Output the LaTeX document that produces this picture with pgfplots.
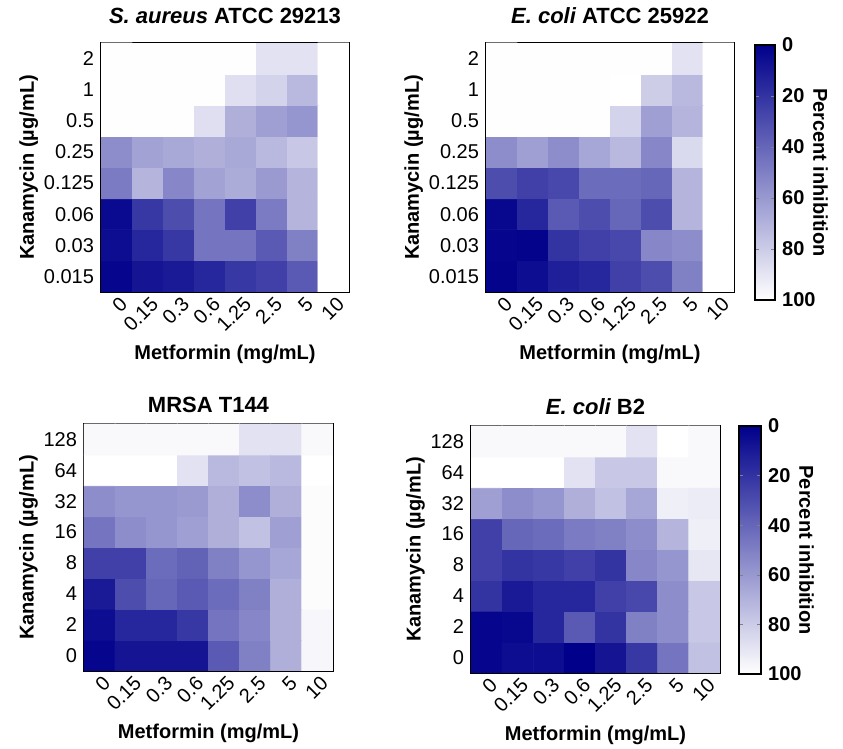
\documentclass[border=0pt]{standalone}
\usepackage{fontspec}
\setmainfont{Liberation Sans}
\usepackage{pgfplots}
\pgfplotsset{compat=1.18}

\pgfplotsset{
  colormap={inhib}{rgb255(0cm)=(0,0,139); rgb255(1cm)=(255,255,255)},
  hm/.style={
    scale only axis, width=124pt, height=124.5pt,
    xmin=-0.5, xmax=7.5, ymin=-0.5, ymax=7.5,
    xtick={0,...,7}, ytick={0,...,7},
    xticklabels={0,0.15,0.3,0.6,1.25,2.5,5,10},
    major tick length=0pt,
    tick label style={font=\fontsize{10}{12}\selectfont},
    xticklabel style={rotate=45, anchor=east, yshift=-5.5pt, xshift=3pt},
    xlabel={Metformin (mg/mL)},
    ylabel={Kanamycin (µg/mL)},
    ylabel shift=-4pt,
    xlabel style={yshift=2.5pt},
    label style={font=\bfseries\fontsize{10}{12}\selectfont},
    title style={font=\bfseries\fontsize{11}{13}\selectfont},
    colormap name=inhib, point meta min=0, point meta max=100,
    axis line style={line width=0.8pt},
    /pgf/number format/assume math mode=true,
  },
  cbstyle/.style={
    scale only axis,
    at={(parent axis.north east)}, anchor=north west,
    y dir=reverse,
    ytick={0,20,...,100},
    major tick length=2pt,
    yticklabel style={font=\bfseries\fontsize{10}{12}\selectfont},
    ylabel={Percent inhibition},
    ylabel style={rotate=180, font=\bfseries\fontsize{10}{12}\selectfont},
    ylabel shift=-8pt,
    axis line style={line width=0.8pt},
    /pgf/number format/assume math mode=true,
  },
}

\begin{document}
\begin{tikzpicture}
\path[use as bounding box] (0,0) rectangle (421.5pt,374.5pt);

% S. aureus ATCC 29213
\begin{axis}[hm, at={(50.5pt,228.5pt)}, anchor=south west,
  title={{\itshape S. aureus} ATCC 29213},
  yticklabels={0.015,0.03,0.06,0.125,0.25,0.5,1,2}]
\addplot[matrix plot*, mesh/cols=8, point meta=explicit] table[meta=c] {
x y c
0 0 2
1 0 8
2 0 10
3 0 15
4 0 22
5 0 25
6 0 35
7 0 100
0 1 5
1 1 15
2 1 22
3 1 45
4 1 45
5 1 35
6 1 50
7 1 100
0 2 4
1 2 22
2 2 30
3 2 45
4 2 25
5 2 48
6 2 70
7 2 100
0 3 48
1 3 70
2 3 52
3 3 63
4 3 67
5 3 60
6 3 70
7 3 100
0 4 55
1 4 63
2 4 66
3 4 68
4 4 66
5 4 72
6 4 78
7 4 100
0 5 99
1 5 99
2 5 99
3 5 87
4 5 68
5 5 62
6 5 58
7 5 100
0 6 99
1 6 99
2 6 99
3 6 99
4 6 87
5 6 82
6 6 72
7 6 100
0 7 99
1 7 99
2 7 99
3 7 99
4 7 99
5 7 88
6 7 88
7 7 100
};
\end{axis}

% E. coli ATCC 25922
\begin{axis}[hm, at={(243pt,228.5pt)}, anchor=south west,
  title={{\itshape E. coli} ATCC 25922},
  yticklabels={0.015,0.03,0.06,0.125,0.25,0.5,1,2},
  colorbar, colorbar/width=10pt,
  colorbar style={cbstyle, width=10pt, height=127.5pt, xshift=2pt, yshift=-1pt}]
\addplot[matrix plot*, mesh/cols=8, point meta=explicit] table[meta=c] {
x y c
0 0 1
1 0 5
2 0 12
3 0 15
4 0 25
5 0 30
6 0 50
7 0 100
0 1 2
1 1 1
2 1 20
3 1 25
4 1 28
5 1 52
6 1 55
7 1 100
0 2 3
1 2 15
2 2 35
3 2 30
4 2 40
5 2 30
6 2 70
7 2 100
0 3 30
1 3 25
2 3 28
3 3 42
4 3 42
5 3 40
6 3 70
7 3 100
0 4 55
1 4 62
2 4 55
3 4 65
4 4 72
5 4 52
6 4 85
7 4 100
0 5 99
1 5 99
2 5 99
3 5 99
4 5 82
5 5 62
6 5 70
7 5 100
0 6 99
1 6 99
2 6 99
3 6 99
4 6 100
5 6 80
6 6 72
7 6 100
0 7 99
1 7 99
2 7 99
3 7 99
4 7 99
5 7 99
6 7 88
7 7 100
};
\end{axis}

% MRSA T144
\begin{axis}[hm, at={(42pt,39pt)}, anchor=south west,
  width=124.5pt, height=123.5pt,
  title={MRSA T144}, title style={yshift=-4pt},
  yticklabels={0,2,4,8,16,32,64,128}]
\addplot[matrix plot*, mesh/cols=8, point meta=explicit] table[meta=c] {
x y c
0 0 2
1 0 8
2 0 8
3 0 8
4 0 35
5 0 50
6 0 68
7 0 96
0 1 5
1 1 15
2 1 15
3 1 22
4 1 45
5 1 52
6 1 68
7 1 96
0 2 10
1 2 30
2 2 40
3 2 35
4 2 42
5 2 50
6 2 68
7 2 98
0 3 25
1 3 25
2 3 42
3 3 38
4 3 50
5 3 58
6 3 65
7 3 98
0 4 45
1 4 55
2 4 58
3 4 62
4 4 68
5 4 75
6 4 62
7 4 98
0 5 55
1 5 58
2 5 58
3 5 60
4 5 68
5 5 55
6 5 68
7 5 98
0 6 100
1 6 100
2 6 100
3 6 88
4 6 72
5 6 75
6 6 72
7 6 100
0 7 97
1 7 97
2 7 97
3 7 97
4 7 97
5 7 88
6 7 88
7 7 97
};
\end{axis}

% E. coli B2
\begin{axis}[hm, at={(235.5pt,38pt)}, anchor=south west,
  width=124.5pt, height=123.5pt,
  title={{\itshape E. coli} B2}, title style={yshift=-4pt},
  yticklabels={0,2,4,8,16,32,64,128},
  colorbar, colorbar/width=11pt,
  colorbar style={cbstyle, width=11pt, height=124pt, xshift=1pt, yshift=0pt}]
\addplot[matrix plot*, mesh/cols=8, point meta=explicit] table[meta=c] {
x y c
0 0 2
1 0 5
2 0 5
3 0 0
4 0 8
5 0 22
6 0 45
7 0 75
0 1 2
1 1 3
2 1 15
3 1 35
4 1 20
5 1 50
6 1 55
7 1 78
0 2 20
1 2 10
2 2 15
3 2 15
4 2 25
5 2 28
6 2 55
7 2 78
0 3 25
1 3 20
2 3 22
3 3 25
4 3 20
5 3 52
6 3 58
7 3 90
0 4 25
1 4 40
2 4 42
3 4 48
4 4 50
5 4 55
6 4 70
7 4 93
0 5 62
1 5 55
2 5 58
3 5 68
4 5 75
5 5 65
6 5 93
7 5 92
0 6 100
1 6 100
2 6 100
3 6 88
4 6 78
5 6 78
6 6 97
7 6 97
0 7 97
1 7 97
2 7 97
3 7 97
4 7 97
5 7 88
6 7 100
7 7 97
};
\end{axis}
\end{tikzpicture}
\end{document}
